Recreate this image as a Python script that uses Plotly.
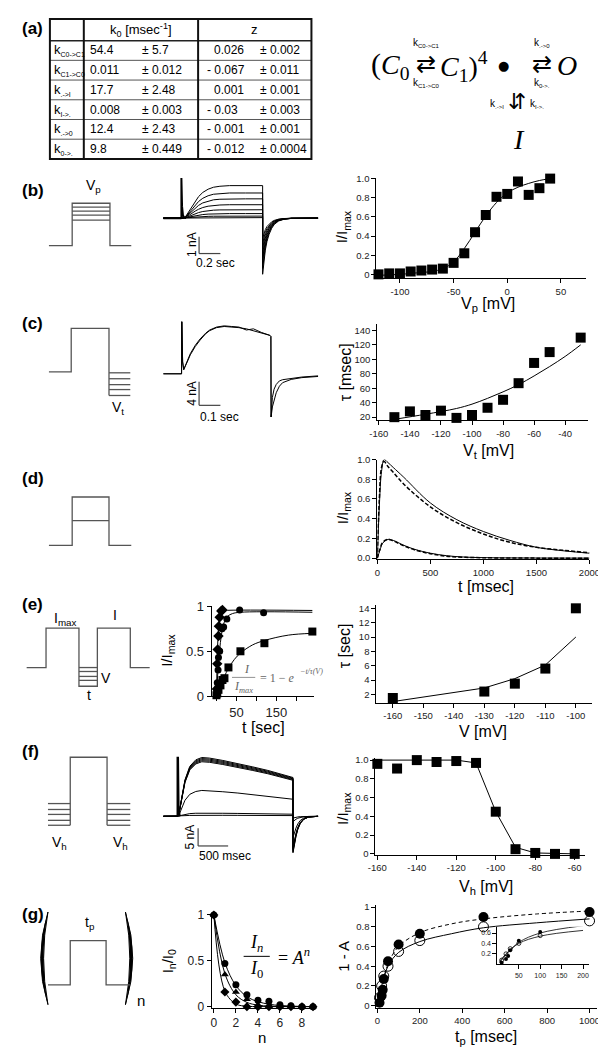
import plotly.graph_objects as go

W, H = 606, 1050
def fx(x): return x / W
def fy(y): return 1 - y / H

FONT = "Liberation Sans, Arial, sans-serif"
NARROW = "Liberation Sans Narrow, Liberation Sans, Arial, sans-serif"
SERIF = "Liberation Serif, DejaVu Serif, serif"

# ---------------- DATA ----------------
# (a) table
tab_sub = ["C0-&gt;C1", "C1-&gt;C0", ".-&gt;I", "I-&gt;.", ".-&gt;0", "0-&gt;."]
tab_k0 = ["54.4", "0.011", "17.7", "0.008", "12.4", "9.8"]
tab_k0_err = ["± 5.7", "± 0.012", "± 2.48", "± 0.003", "± 2.43", "± 0.449"]
tab_z = ["0.026", "- 0.067", "0.001", "- 0.03", "- 0.001", "- 0.012"]
tab_z_err = ["± 0.002", "± 0.011", "± 0.001", "± 0.003", "± 0.001", "± 0.0004"]

# (b) activation traces (time s, current nA)
b_on, b_off, b_end = 0.17, 0.93, 1.45
b_rise_t = [0.0, 0.02, 0.04, 0.06, 0.08, 0.10, 0.13, 0.16, 0.20, 0.25, 0.30, 0.36, 0.45, 0.60, 0.76]
b_rise_f = [0.0, 0.0, 0.05, 0.15, 0.27, 0.38, 0.53, 0.66, 0.79, 0.89, 0.95, 0.98, 1.0, 1.0, 1.0]
b_tail_t = [0.0, 0.01, 0.025, 0.04, 0.06, 0.085, 0.11, 0.15, 0.20, 0.27, 0.52]
b_tail_f = [1.0, 0.78, 0.57, 0.42, 0.29, 0.18, 0.11, 0.05, 0.02, 0.005, 0.0]
b_plateau = [1.94, 1.50, 1.15, 0.80, 0.50, 0.27, 0.12, 0.03]
b_tail_peak = [-3.35, -3.0, -2.7, -2.4, -2.1, -1.8, -1.5, -1.2]
b_spike_t = [0.0, 0.0, 0.006, 0.015, 0.03, 0.045]
b_spike_i = [0.0, 2.4, 0.7, 0.15, 0.02, 0.0]
# (b) activation curve
b_V = [-120, -110, -100, -90, -80, -70, -60, -50, -40, -30, -20, -10, 0, 10, 20, 30, 40]
b_I = [0.0, 0.01, 0.01, 0.03, 0.04, 0.05, 0.06, 0.12, 0.22, 0.44, 0.62, 0.81, 0.84, 0.97, 0.83, 0.90, 1.0]
b_fitV = [-120, -100, -80, -70, -60, -50, -40, -30, -20, -10, 0, 10, 20, 30, 40]
b_fitI = [-0.01, 0.0, 0.02, 0.03, 0.06, 0.13, 0.27, 0.44, 0.61, 0.75, 0.85, 0.91, 0.95, 0.98, 1.0]

# (c) deactivation traces
c_t = [0.0, 0.086, 0.087, 0.091, 0.096, 0.105, 0.115, 0.127, 0.15, 0.173, 0.20, 0.218, 0.25, 0.286,
       0.32, 0.355, 0.39, 0.423, 0.46, 0.50, 0.505]
c_i1 = [0.0, 0.0, 8.8, 2.0, 0.7, 1.3, 2.2, 3.2, 4.6, 5.7, 6.8, 7.3, 7.8, 8.0, 7.95, 7.8, 7.6, 7.3, 6.9, 6.5, 6.3]
c_i2 = [0.0, 0.0, 8.8, 2.0, 0.7, 1.4, 2.4, 3.4, 4.8, 5.9, 6.9, 7.4, 7.9, 8.1, 8.0, 7.9, 7.4, 7.6, 7.0, 6.5, 6.3]
c_tail_t = [0.505, 0.506, 0.512, 0.52, 0.53, 0.545, 0.56, 0.60, 0.65, 0.727]
c_tail1 = [6.3, -7.3, -4.0, -2.6, -1.8, -1.2, -1.0, -0.75, -0.55, -0.35]
c_tail2 = [6.3, -7.3, -5.6, -4.3, -3.2, -2.1, -1.5, -0.95, -0.65, -0.45]
# (c) time constants
c_V = [-150, -140, -130, -120, -110, -100, -90, -80, -70, -60, -50, -40, -30]
c_tau = [20, 28, 23, 29, 19, 23, 33, 44, 67, 95, 110, 150, 130]
c_fitV = [-150, -130, -110, -100, -90, -80, -70, -60, -50, -40, -30]
c_fitT = [17, 24, 32, 38, 46, 55, 65, 77, 90, 104, 120]

# (d) inactivation time course
d_t = [0, 20, 40, 64, 100, 150, 250, 500, 750, 1000, 1250, 1500, 1750, 2000]
d_fit_hi = [0.0, 0.55, 0.88, 1.0, 0.97, 0.92, 0.82, 0.56, 0.39, 0.27, 0.18, 0.11, 0.075, 0.05]
d_dat_hi = [0.0, 0.62, 0.92, 0.98, 0.93, 0.87, 0.75, 0.52, 0.36, 0.245, 0.16, 0.11, 0.08, 0.055]
d_t_lo = [0, 25, 50, 100, 150, 250, 350, 500, 650, 800, 1000, 1500, 2000]
d_fit_lo = [0.0, 0.08, 0.15, 0.19, 0.18, 0.13, 0.09, 0.05, 0.025, 0.012, 0.005, 0.001, 0.0]
d_dat_lo = [0.0, 0.09, 0.16, 0.19, 0.175, 0.125, 0.085, 0.045, 0.02, 0.01, 0.004, 0.0, 0.0]

# (e) recovery
e_t_dia = [1, 2, 3, 5, 6, 8, 12, 15]
e_I_dia = [0.08, 0.36, 0.52, 0.67, 0.78, 0.88, 0.95, 0.96]
e_t_cir = [2, 4, 5, 8, 14, 18, 26, 58, 118]
e_I_cir = [0.15, 0.29, 0.43, 0.50, 0.75, 0.77, 0.86, 0.96, 0.93]
e_t_sq = [0, 2, 5, 10, 15, 20, 30, 60, 120, 240]
e_I_sq = [0.01, 0.03, 0.07, 0.12, 0.18, 0.20, 0.32, 0.50, 0.59, 0.72]
e_fit_dia_t = [0, 2, 4, 6, 8, 10, 14, 20, 240]
e_fit_dia = [0.0, 0.42, 0.68, 0.82, 0.89, 0.93, 0.95, 0.955, 0.955]
e_fit_cir_t = [0, 4, 8, 12, 16, 20, 28, 40, 60, 240]
e_fit_cir = [0.0, 0.30, 0.52, 0.67, 0.77, 0.83, 0.89, 0.92, 0.935, 0.935]
e_fit_sq_t = [0, 10, 20, 30, 45, 60, 90, 120, 180, 240]
e_fit_sq = [0.0, 0.12, 0.22, 0.31, 0.41, 0.48, 0.57, 0.62, 0.68, 0.70]
e_V = [-160, -130, -120, -110, -100]
e_tau = [1.5, 2.4, 3.5, 5.6, 14.0]
e_fit = [1.0, 2.9, 4.2, 6.1, 10.0]

# (f) steady-state inactivation traces
f_on, f_off, f_end = 0.242, 2.16, 2.58
f_shape_t = [0.0, 0.02, 0.06, 0.12, 0.20, 0.30, 0.40, 0.53, 0.75, 1.0, 1.25, 1.5, 1.75, 1.918]
f_shape_f = [0.0, 0.05, 0.30, 0.62, 0.85, 0.96, 1.0, 0.99, 0.95, 0.90, 0.84, 0.78, 0.71, 0.66]
f_levels = [16.6, 16.3, 16.0, 15.7, 15.4, 7.3, 0.9, 0.3]
f_tail_t = [0.0, 0.02, 0.05, 0.08, 0.12, 0.18, 0.26, 0.42]
f_tail_f = [1.0, 0.78, 0.55, 0.36, 0.20, 0.08, 0.02, 0.0]
f_tail_peak = [-10.3, -10.0, -9.6, -9.2, -8.8, -6.0, -1.5, -0.5]
f_spike_t = [0.0, 0.0, 0.01, 0.03]
f_spike_i = [0.0, 16.8, 2.0, 0.0]
f_V = [-160, -150, -140, -130, -120, -110, -100, -90, -80, -70, -60]
f_I = [0.96, 0.91, 1.0, 0.98, 0.99, 0.97, 0.45, 0.05, 0.01, 0.0, 0.0]
f_fitV = [-160, -140, -120, -110, -100, -90, -80, -70, -60]
f_fitI = [1.0, 1.0, 1.0, 0.97, 0.45, 0.07, 0.01, 0.005, 0.0]

# (g) use-dependence
g_n = [0, 1, 2, 3, 4, 5, 6, 7, 8, 9]
g_cir = [1.0, 0.47, 0.24, 0.13, 0.07, 0.06, 0.02, 0.01, 0.0, 0.0]
g_tri = [1.0, 0.35, 0.16, 0.08, 0.02, 0.01, 0.0, 0.0, 0.0, 0.0]
g_dia = [1.0, 0.16, 0.05, 0.0, 0.0, 0.0, 0.0, 0.0, 0.0, 0.0]
g_fit_cir = [1.0, 0.48, 0.23, 0.11, 0.055, 0.027, 0.013, 0.006, 0.003, 0.0015]
g_fit_tri = [1.0, 0.36, 0.13, 0.047, 0.017, 0.006, 0.002, 0.001, 0.0, 0.0]
g_fit_dia = [1.0, 0.17, 0.03, 0.005, 0.001, 0.0, 0.0, 0.0, 0.0, 0.0]
g_tp_f = [10, 20, 25, 30, 50, 100, 200, 500, 1000]
g_A_f = [0.03, 0.10, 0.16, 0.27, 0.45, 0.62, 0.73, 0.90, 0.95]
g_tp_o = [10, 20, 30, 50, 100, 200, 500, 1000]
g_A_o = [0.08, 0.20, 0.30, 0.40, 0.55, 0.66, 0.80, 0.86]
g_fit_tp = [5, 20, 50, 100, 200, 350, 500, 750, 1000]
g_fit_f = [0.03, 0.18, 0.42, 0.60, 0.74, 0.83, 0.88, 0.93, 0.96]
g_fit_o = [0.05, 0.20, 0.40, 0.54, 0.65, 0.73, 0.79, 0.84, 0.88]

# ---------------- helpers ----------------
fig = go.Figure()
ann, shp, lay = [], [], {}
nax = [0]

def add_axes(box, xr, yr, xt=None, xtt=None, yt=None, ytt=None, visible=True, tfs=9.5):
    nax[0] += 1
    n = nax[0]
    s = '' if n == 1 else str(n)
    x0, y0, x1, y1 = box
    com = dict(showgrid=False, zeroline=False, showline=visible, visible=visible, linecolor='black',
               linewidth=1, ticks='outside' if visible else '', ticklen=4, tickwidth=1, tickcolor='black',
               tickfont=dict(family=FONT, size=tfs, color='#222'), fixedrange=True)
    xa = dict(com, domain=[fx(x0), fx(x1)], range=xr, anchor='y' + s)
    ya = dict(com, domain=[fy(y1), fy(y0)], range=yr, anchor='x' + s)
    if xt is not None:
        xa.update(tickmode='array', tickvals=xt, ticktext=xtt if xtt else [str(v) for v in xt])
    if yt is not None:
        ya.update(tickmode='array', tickvals=yt, ticktext=ytt if ytt else [str(v) for v in yt])
    lay['xaxis' + s] = xa
    lay['yaxis' + s] = ya
    return 'x' + s, 'y' + s

def line(ax, x, y, width=1.0, dash=None, color='black', shape='linear'):
    fig.add_trace(go.Scatter(x=x, y=y, xaxis=ax[0], yaxis=ax[1], mode='lines', cliponaxis=False,
                             line=dict(color=color, width=width, dash=dash, shape=shape), hoverinfo='skip'))

def marks(ax, x, y, symbol='square', size=10):
    fig.add_trace(go.Scatter(x=x, y=y, xaxis=ax[0], yaxis=ax[1], mode='markers', cliponaxis=False,
                             marker=dict(symbol=symbol, size=size, color='black', line=dict(width=0)),
                             hoverinfo='skip'))

def text(x, y, s, size=12, family=FONT, color='black', xa='center', ya='middle', angle=0):
    ann.append(dict(x=fx(x), y=fy(y), xref='paper', yref='paper', text=s, showarrow=False,
                    font=dict(family=family, size=size, color=color), xanchor=xa, yanchor=ya,
                    textangle=angle))

def seg(x0, y0, x1, y1, color='black', width=1.0):
    shp.append(dict(type='line', xref='paper', yref='paper', x0=fx(x0), y0=fy(y0), x1=fx(x1), y1=fy(y1),
                    line=dict(color=color, width=width)))

def poly(pts, color='#555', width=1.3):
    d = 'M ' + ' L '.join(f'{fx(x):.5f},{fy(y):.5f}' for x, y in pts)
    shp.append(dict(type='path', xref='paper', yref='paper', path=d, line=dict(color=color, width=width)))

def label(y, s):
    text(4, y, f'<b>{s}</b>', size=17, xa='left')

def ksub(s, small=7):
    return f'k<sub><span style="font-size:{small}px">{s}</span></sub>'

# ---------------- (a) table ----------------
label(14, '(a)')
tx0, tx1, ty0, ty1 = 35, 305, 4, 146
row_y = [26 + 20 * i for i in range(7)]
for yy in row_y[1:-1]:
    seg(tx0, yy, tx1, yy, '#555', 1)
seg(tx0, row_y[0], tx1, row_y[0], '#222', 1.5)
for xx in (70, 188):
    seg(xx, ty0, xx, ty1, '#111', 2)
shp.append(dict(type='rect', xref='paper', yref='paper', x0=fx(tx0), y0=fy(ty1), x1=fx(tx1), y1=fy(ty0),
                line=dict(color='#111', width=2)))
text(129, 15, 'k<sub>0</sub> [msec<sup>-1</sup>]', size=13, family=NARROW)
text(246, 15, 'z', size=13, family=NARROW)
for i in range(6):
    yc = row_y[i] + 10
    text(37, yc, ksub(tab_sub[i]), size=13, family=NARROW, xa='left')
    text(74, yc, tab_k0[i], size=12, family=NARROW, xa='left')
    text(128, yc, tab_k0_err[i], size=12, family=NARROW, xa='left')
    text(195 if tab_z[i].startswith('-') else 202, yc, tab_z[i], size=12, family=NARROW, xa='left')
    text(250, yc, tab_z_err[i], size=12, family=NARROW, xa='left')

# kinetic scheme
text(372, 50, '(', size=30, family=SERIF)
text(392, 52, '<i>C</i><sub>0</sub>', size=28, family=SERIF)
text(423, 50, '⇄', size=24, family='DejaVu Sans')
text(424, 28, ksub('C0-&gt;C1', 6), size=10, family=NARROW)
text(424, 69, ksub('C1-&gt;C0', 6), size=10, family=NARROW)
text(462, 52, '<i>C</i><sub>1</sub>)<sup>4</sup>', size=28, family=SERIF)
text(503, 51, '●', size=13, family='DejaVu Sans')
text(543, 50, '⇄', size=24, family='DejaVu Sans')
text(543, 28, ksub('.-&gt;0', 6), size=10, family=NARROW)
text(543, 69, ksub('0-&gt;.', 6), size=10, family=NARROW)
text(569, 51, '<i>O</i>', size=28, family=SERIF)
text(517, 88, '⇵', size=22, family='DejaVu Sans')
text(506, 90, ksub('.-&gt;I', 6), size=10, family=NARROW, xa='right')
text(529, 90, ksub('I-&gt;.', 6), size=10, family=NARROW, xa='left')
text(519, 126, '<i>I</i>', size=28, family=SERIF)

# ---------------- (b) ----------------
label(178, '(b)')
poly([(34, 234), (58, 234), (58, 191), (97, 191), (97, 234), (119, 234)])
for yy in (195, 199, 203, 208):
    poly([(58, yy), (97, yy)])
text(80, 173, 'V<sub>p</sub>', size=14)
axb = add_axes((152, 160, 312, 270), [0, 1.45], [-3.76, 2.71], visible=False)
for p, tp in zip(b_plateau, b_tail_peak):
    xs = [0, b_on] + [b_on + t for t in b_rise_t] + [b_off + t for t in b_tail_t] + [b_end]
    ys = [0, 0] + [p * f for f in b_rise_f] + [tp * f for f in b_tail_f] + [0]
    line(axb, xs, ys, 1.0)
line(axb, [b_on + t for t in b_spike_t], b_spike_i, 2.0)
line(axb, [0, b_on], [0, 0], 2.0)
seg(189, 225, 189, 242, '#444', 1.2)
seg(189, 242, 211, 242, '#444', 1.2)
text(181, 233, '1 nA', size=12, angle=-90)
text(206, 252, '0.2 sec', size=12)

axb2 = add_axes((372, 165, 588, 267), [-122, 73], [-0.04, 1.01],
                xt=[-100, -50, 0, 50], yt=[0, 0.2, 0.4, 0.6, 0.8, 1.0],
                ytt=['0', '0.2', '0.4', '0.6', '0.8', '1.0'])
line(axb2, b_fitV, b_fitI, 1.0, shape='spline')
marks(axb2, b_V, b_I)
text(338, 215, 'I/I<sub>max</sub>', size=15, angle=-90)
text(487, 294, 'V<sub>p</sub> [mV]', size=16)

# ---------------- (c) ----------------
label(313, '(c)')
poly([(34, 362), (57, 362), (57, 318), (96, 318), (96, 386)])
for yy in (363, 369, 375, 380, 386):
    poly([(96, yy), (118, yy)])
text(105, 399, 'V<sub>t</sub>', size=14)
axc = add_axes((152, 305, 312, 415), [0, 0.727], [-8.5, 9.83], visible=False)
line(axc, c_t + c_tail_t, c_i1 + c_tail1, 1.0)
line(axc, c_t + c_tail_t, c_i2 + c_tail2, 1.0)
seg(189, 372, 189, 396, '#444', 1.2)
seg(189, 396, 211, 396, '#444', 1.2)
text(181, 384, '4 nA', size=12, angle=-90)
text(210, 408, '0.1 sec', size=12)

axc2 = add_axes((373, 313, 590, 411), [-161, -25.6], [15.9, 149.5],
                xt=[-160, -140, -120, -100, -80, -60, -40], yt=[20, 40, 60, 80, 100, 120, 140])
line(axc2, c_fitV, c_fitT, 1.0, shape='spline')
marks(axc2, c_V, c_tau)
text(340, 362, 'τ [msec]', size=16, angle=-90)
text(488, 443, 'V<sub>t</sub> [mV]', size=16)

# ---------------- (d) ----------------
label(470, '(d)')
poly([(34, 538), (58, 538), (58, 489), (96, 489), (96, 538), (119, 538)])
poly([(58, 513), (96, 513)])
axd = add_axes((373, 451, 592, 552), [0, 2000], [-0.01, 1.0],
               xt=[0, 500, 1000, 1500, 2000], yt=[0, 0.2, 0.4, 0.6, 0.8, 1.0],
               ytt=['0.0', '0.2', '0.4', '0.6', '0.8', '1.0'])
line(axd, d_t, d_dat_hi, 1.5, dash='4px,2px', shape='spline')
line(axd, d_t, d_fit_hi, 1.0, shape='spline')
line(axd, d_t_lo, d_dat_lo, 1.5, dash='4px,2px', shape='spline')
line(axd, d_t_lo, d_fit_lo, 1.0, shape='spline')
text(338, 500, 'I/I<sub>max</sub>', size=15, angle=-90)
text(485, 580, 't [msec]', size=16)

# ---------------- (e) ----------------
label(598, '(e)')
poly([(11, 662), (31, 662), (31, 622), (65, 622), (65, 681), (84, 681), (84, 622), (118, 622), (118, 662), (138, 662)])
for yy in (662, 666, 671, 675):
    poly([(65, yy), (84, yy)])
text(51, 613, 'I<sub>max</sub>', size=14)
text(102, 609, 'I', size=14)
text(93, 673, 'V', size=14)
text(75, 690, 't', size=14)
axe = add_axes((202, 600, 308, 691), [-12, 245], [0, 1.0],
               xt=[0, 50, 100, 150, 200], xtt=['', '50', '', '150', ''],
               yt=[0, 0.5, 1], ytt=['0', '0.5', '1'], tfs=13)
line(axe, e_fit_sq_t, e_fit_sq, 1.0, shape='spline')
line(axe, e_fit_cir_t, e_fit_cir, 1.0, shape='spline')
line(axe, e_fit_dia_t, e_fit_dia, 1.0, shape='spline')
marks(axe, e_t_sq, e_I_sq, 'square', 8)
marks(axe, e_t_cir, e_I_cir, 'circle', 7)
marks(axe, e_t_dia, e_I_dia, 'diamond', 8)
text(157, 645, 'I/I<sub>max</sub>', size=15, angle=-90)
text(255, 723, 't [sec]', size=16)
text(238, 663, '<i>I</i>', size=12, family=SERIF, color='#666')
seg(223, 672, 247, 672, '#777', 0.8)
text(235, 682, '<i>I<sub>max</sub></i>', size=12, family=SERIF, color='#666')
text(250, 673, '= 1 − <i>e</i>', size=12, family=SERIF, color='#666', xa='left')
text(291, 666, '<i>−t/τ(V)</i>', size=8, family=SERIF, color='#666', xa='left')

axe2 = add_axes((372, 599, 595, 698), [-165.4, -94.6], [0.8, 14.4],
                xt=[-160, -150, -140, -130, -120, -110, -100], yt=[2, 4, 6, 8, 10, 12, 14])
line(axe2, e_V, e_fit, 1.0)
marks(axe2, e_V, e_tau)
text(340, 640, 'τ [sec]', size=16, angle=-90)
text(482, 727, 'V [mV]', size=16)

# ---------------- (f) ----------------
label(747, '(f)')
poly([(56, 822), (56, 753), (94, 753), (94, 822)])
for yy in (800, 806, 811, 817, 822):
    poly([(33, yy), (56, yy)])
    poly([(94, yy), (118, yy)])
text(45, 840, 'V<sub>h</sub>', size=14)
text(108, 840, 'V<sub>h</sub>', size=14)
axf = add_axes((152, 745, 312, 860), [0, 2.58], [-13.1, 18.9], visible=False)
for lv, tp in zip(f_levels, f_tail_peak):
    xs = [0, f_on] + [f_on + t for t in f_shape_t] + [f_off + t for t in f_tail_t] + [f_end]
    ys = [0, 0] + [lv * f for f in f_shape_f] + [tp * f for f in f_tail_f] + [0]
    line(axf, xs, ys, 1.0)
line(axf, [f_on + t for t in f_spike_t], f_spike_i, 2.5)
seg(188, 825, 188, 843, '#444', 1.2)
seg(188, 843, 219, 843, '#444', 1.2)
text(180, 834, '5 nA', size=12, angle=-90)
text(216, 853, '500 msec', size=12)

axf2 = add_axes((371, 754, 587, 852), [-161, -55], [-0.01, 1.02],
                xt=[-160, -140, -120, -100, -80, -60], yt=[0, 0.2, 0.4, 0.6, 0.8, 1.0],
                ytt=['0', '0.2', '0.4', '0.6', '0.8', '1.0'])
line(axf2, f_fitV, f_fitI, 1.0)
marks(axf2, f_V, f_I)
text(338, 805, 'I/I<sub>max</sub>', size=15, angle=-90)
text(485, 885, 'V<sub>h</sub> [mV]', size=16)

# ---------------- (g) ----------------
label(913, '(g)')
shp.append(dict(type='path', xref='paper', yref='paper', fillcolor='black', line=dict(color='black', width=1),
                path=f'M {fx(33)},{fy(910)} Q {fx(18)},{fy(957)} {fx(33)},{fy(1004)} '
                     f'Q {fx(24)},{fy(957)} {fx(33)},{fy(910)} Z'))
shp.append(dict(type='path', xref='paper', yref='paper', fillcolor='black', line=dict(color='black', width=1),
                path=f'M {fx(113)},{fy(910)} Q {fx(128)},{fy(957)} {fx(113)},{fy(1004)} '
                     f'Q {fx(122)},{fy(957)} {fx(113)},{fy(910)} Z'))
text(129, 1000, 'n', size=15)
poly([(33, 984), (56, 984), (56, 939), (93, 939), (93, 984), (118, 984)])
text(76, 921, 't<sub>p</sub>', size=14)
axg = add_axes((202, 913, 310, 1007), [-0.2, 9.3], [-0.01, 1.0],
               xt=[0, 2, 4, 6, 8], yt=[0, 0.5, 1], ytt=['0', '0.5', '1'], tfs=12)
line(axg, g_n, g_fit_cir, 1.0, shape='spline')
line(axg, g_n, g_fit_tri, 1.0, shape='spline')
line(axg, g_n, g_fit_dia, 1.0, shape='spline')
marks(axg, g_n, g_cir, 'circle', 7)
marks(axg, g_n, g_tri, 'triangle-up', 7)
marks(axg, g_n, g_dia, 'diamond', 7)
text(157, 960, 'I<sub>n</sub>/I<sub>0</sub>', size=15, angle=-90)
text(254, 1037, 'n', size=15)
text(248, 942, '<i>I<sub>n</sub></i>', size=18, family=SERIF)
seg(235, 955, 262, 955, 'black', 1)
text(248, 968, '<i>I</i><sub>0</sub>', size=18, family=SERIF)
text(268, 955, '= <i>A<sup>n</sup></i>', size=18, family=SERIF, xa='left')

axg2 = add_axes((372, 903, 600, 1007), [-5, 1036], [-0.02, 1.02],
                xt=[0, 200, 400, 600, 800, 1000], yt=[0, 0.2, 0.4, 0.6, 0.8, 1.0],
                ytt=['0', '0.2', '0.4', '0.6', '0.8', '1'])
line(axg2, g_fit_tp, g_fit_f, 1.0, dash='4px,3px', shape='spline')
line(axg2, g_fit_tp, g_fit_o, 1.0, shape='spline')
fig.add_trace(go.Scatter(x=g_tp_o, y=g_A_o, xaxis=axg2[0], yaxis=axg2[1], mode='markers', cliponaxis=False,
                         marker=dict(symbol='circle-open', size=10, color='black', line=dict(width=1)),
                         hoverinfo='skip'))
marks(axg2, g_tp_f, g_A_f, 'circle', 10)
text(338, 955, '1 - A', size=15, angle=-90)
text(485, 1037, 't<sub>p</sub> [msec]', size=16)
# inset
axg3 = add_axes((497, 925, 592, 963), [0, 215], [0, 0.72],
                xt=[50, 100, 150, 200], yt=[0.2, 0.4, 0.6], tfs=7)
line(axg3, g_fit_tp[:5], g_fit_f[:5], 0.8, shape='spline')
line(axg3, g_fit_tp[:5], g_fit_o[:5], 0.8, shape='spline')
fig.add_trace(go.Scatter(x=g_tp_o[:5], y=g_A_o[:5], xaxis=axg3[0], yaxis=axg3[1], mode='markers',
                         marker=dict(symbol='circle-open', size=4, color='black', line=dict(width=0.8)),
                         hoverinfo='skip'))
marks(axg3, g_tp_f[:6], g_A_f[:6], 'circle', 4)

fig.update_layout(width=W, height=H, margin=dict(l=0, r=0, t=0, b=0), paper_bgcolor='white',
                  plot_bgcolor='rgba(0,0,0,0)', showlegend=False, annotations=ann, shapes=shp, **lay)
fig.write_html('out.html')
